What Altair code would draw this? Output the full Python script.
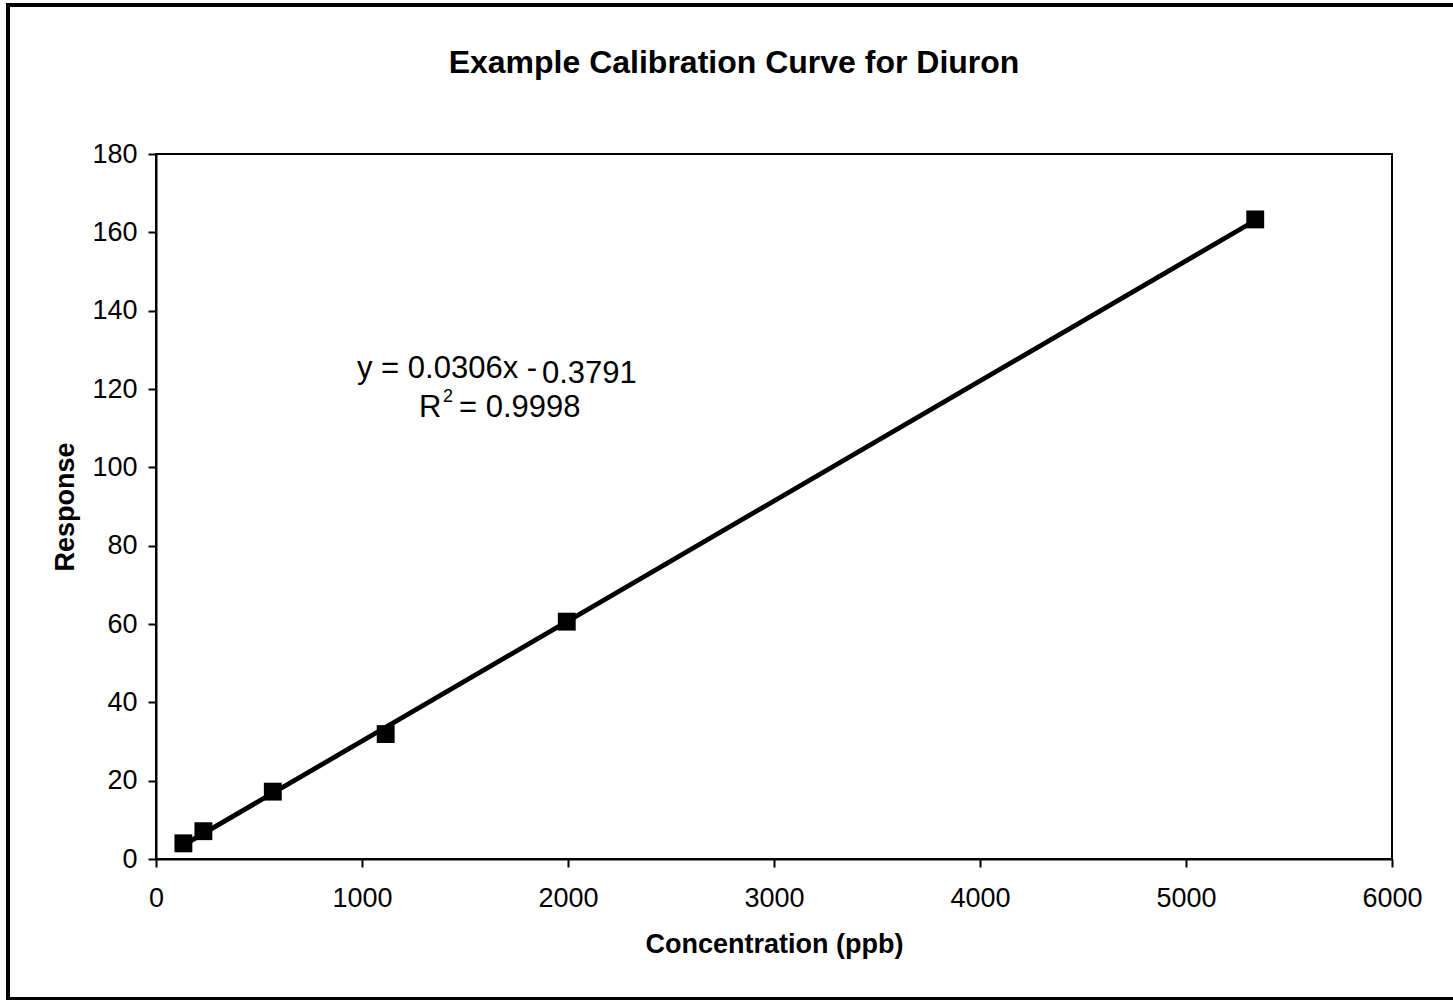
import altair as alt
import pandas as pd

# ---- data ----
concentration = [133, 230, 567, 1115, 1994, 5336]
response = [4.0, 7.1, 17.2, 31.9, 60.6, 163.3]

x_ticks = [0, 1000, 2000, 3000, 4000, 5000, 6000]
y_ticks = [0, 20, 40, 60, 80, 100, 120, 140, 160, 180]

title_text = "Example Calibration Curve for Diuron"
x_title = "Concentration (ppb)"
y_title = "Response"
eq_main = "y = 0.0306x -"
eq_intercept = "0.3791"
r2_letter = "R"
r2_exp = "2"
r2_value = "= 0.9998"

df = pd.DataFrame({"conc": concentration, "resp": response})

FONT = "Liberation Sans"
W, H = 1236, 705

x_enc = alt.X(
    "conc:Q",
    scale=alt.Scale(domain=[0, 6000], nice=False, zero=True),
    axis=alt.Axis(
        values=x_ticks, title=x_title, format="d",
        labelFlush=False, labelOverlap=False, labelPadding=18,
        titleX=W / 2, titleY=93, titleAlign="center", titleBaseline="alphabetic",
    ),
)
y_enc = alt.Y(
    "resp:Q",
    scale=alt.Scale(domain=[0, 180], nice=False),
    axis=alt.Axis(
        values=y_ticks, title=y_title, format="d",
        labelFlush=False, labelOverlap=False, labelPadding=11,
        titleAngle=270, titleX=-83, titleY=H / 2, titleAlign="center",
        titleBaseline="alphabetic",
    ),
)

base = alt.Chart(df)

trend = base.transform_regression("conc", "resp").mark_line(
    color="black", strokeWidth=4.8
).encode(x=x_enc, y=y_enc)

points = base.mark_point(
    shape="square", filled=True, size=320, color="black", opacity=1
).encode(x=x_enc, y=y_enc)

one = alt.Data(values=[{}])


def label(text, x, y, size=30, weight="normal", align="left"):
    return alt.Chart(one).mark_text(
        text=text, font=FONT, fontSize=size, fontWeight=weight,
        align=align, baseline="alphabetic", color="black",
    ).encode(x=alt.value(x), y=alt.value(y))


title = label(title_text, 578, -81.5, size=32, weight="bold", align="center")
t1 = label(eq_main, 201, 224, size=31)
t2 = label(eq_intercept, 386, 229, size=31)
t3 = label(r2_letter, 263, 263, size=31)
t4 = label(r2_exp, 287, 248, size=18)
t5 = label(r2_value, 303, 263, size=31)

border = alt.Chart(one).mark_rect(
    fillOpacity=0, stroke="black", strokeWidth=4
).encode(
    x=alt.value(-148), x2=alt.value(1301), y=alt.value(-149), y2=alt.value(845)
)

chart = alt.layer(border, trend, points, title, t1, t2, t3, t4, t5).properties(
    width=W, height=H,
    autosize=alt.AutoSizeParams(type="none"),
    padding={"left": 156, "top": 154, "right": 61, "bottom": 141},
    background="white",
).configure_view(
    stroke="black", strokeWidth=2
).configure_axis(
    grid=False,
    domainColor="black", domainWidth=2,
    tickColor="black", tickWidth=2, tickSize=8,
    labelFont=FONT, labelFontSize=27, labelColor="black",
    titleFont=FONT, titleFontSize=27, titleFontWeight="bold", titleColor="black",
)

chart.save("out.html", embed_options={"renderer": "svg", "actions": False})
